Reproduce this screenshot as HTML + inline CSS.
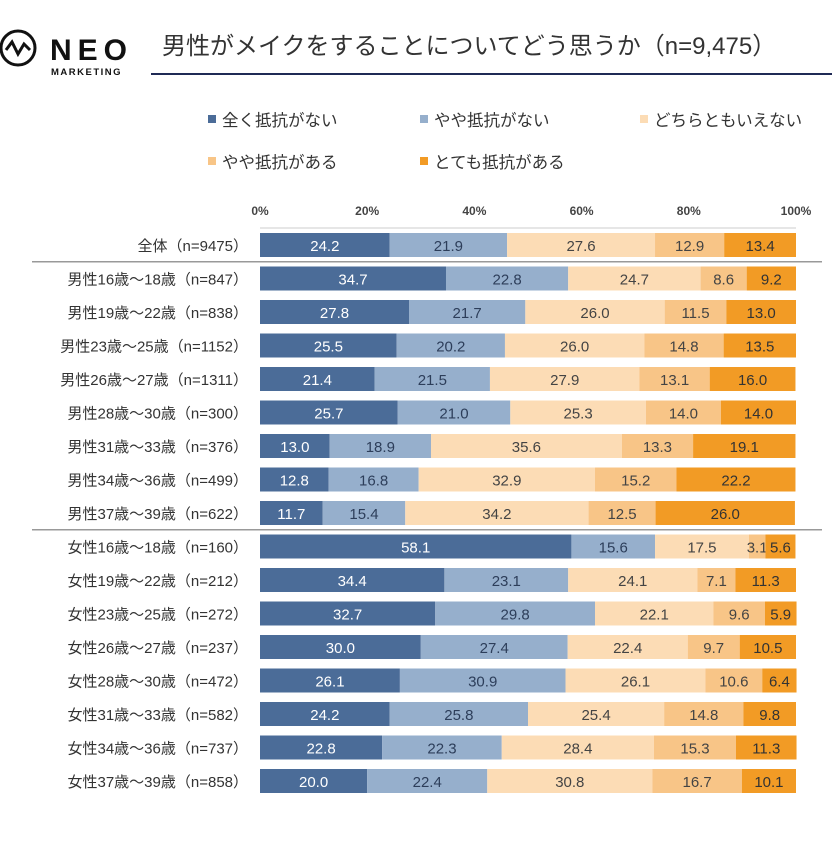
<!DOCTYPE html>
<html><head><meta charset="utf-8">
<style>
body{margin:0;background:#fff;width:837px;height:861px;overflow:hidden;font-family:"Liberation Sans","Noto Sans CJK JP",sans-serif;}
svg text{font-family:"Liberation Sans","Noto Sans CJK JP",sans-serif;}
</style></head><body>
<svg id="chart" width="837" height="861">
<g>
<circle cx="18" cy="48" r="17" fill="none" stroke="#111" stroke-width="3"/>
<polyline points="6,50 12,42 18,54 24,44 30,50" fill="none" stroke="#111" stroke-width="3"/>
<text x="50" y="60" font-size="30" font-weight="bold" letter-spacing="6" fill="#111">NEO</text>
<text x="51" y="75" font-size="9.5" font-weight="bold" letter-spacing="1.5" fill="#111">MARKETING</text>
</g>
<text x="162" y="54" font-size="24" fill="#333">男性がメイクをすることについてどう思うか（n=9,475）</text>
<line x1="151" y1="74" x2="832" y2="74" stroke="#1f2a55" stroke-width="2"/>
<g id="legend"></g>
<g id="axis"></g>
<g id="bars"></g>
</svg>
<script>
const categories=["全体（n=9475）","男性16歳～18歳（n=847）","男性19歳～22歳（n=838）","男性23歳～25歳（n=1152）","男性26歳～27歳（n=1311）","男性28歳～30歳（n=300）","男性31歳～33歳（n=376）","男性34歳～36歳（n=499）","男性37歳～39歳（n=622）","女性16歳～18歳（n=160）","女性19歳～22歳（n=212）","女性23歳～25歳（n=272）","女性26歳～27歳（n=237）","女性28歳～30歳（n=472）","女性31歳～33歳（n=582）","女性34歳～36歳（n=737）","女性37歳～39歳（n=858）"];
const seriesNames=["全く抵抗がない","やや抵抗がない","どちらともいえない","やや抵抗がある","とても抵抗がある"];
const s1=[24.2,34.7,27.8,25.5,21.4,25.7,13.0,12.8,11.7,58.1,34.4,32.7,30.0,26.1,24.2,22.8,20.0];
const s2=[21.9,22.8,21.7,20.2,21.5,21.0,18.9,16.8,15.4,15.6,23.1,29.8,27.4,30.9,25.8,22.3,22.4];
const s3=[27.6,24.7,26.0,26.0,27.9,25.3,35.6,32.9,34.2,17.5,24.1,22.1,22.4,26.1,25.4,28.4,30.8];
const s4=[12.9,8.6,11.5,14.8,13.1,14.0,13.3,15.2,12.5,3.1,7.1,9.6,9.7,10.6,14.8,15.3,16.7];
const s5=[13.4,9.2,13.0,13.5,16.0,14.0,19.1,22.2,26.0,5.6,11.3,5.9,10.5,6.4,9.8,11.3,10.1];
const ticks=[0,20,40,60,80,100];
const series=[s1,s2,s3,s4,s5];
const colors=["#4b6c98","#96afcc","#fcdcb5","#f8c587","#f29b25"];
const textColors=["#fff","#2d3e5a","#444","#444","#333"];
const NS="http://www.w3.org/2000/svg";
const X0=260,X1=796,Y0=245,DY=33.5,BH=24;
const xs=v=>X0+(X1-X0)*v/100;
const yc=i=>Y0+DY*i;
function mk(tag,attrs,parent){const e=document.createElementNS(NS,tag);for(const k in attrs)e.setAttribute(k,attrs[k]);parent.appendChild(e);return e;}
const bars=document.getElementById('bars'),axis=document.getElementById('axis'),legend=document.getElementById('legend');
ticks.forEach(t=>{
  const tx=mk('text',{x:xs(t),y:215,'font-size':12,'font-weight':'bold','text-anchor':'middle',fill:'#444'},axis);
  
  
  tx.textContent=t+'%';
});
mk('line',{x1:X0,y1:228,x2:X1,y2:228,stroke:'#ccc'},axis);
[0.5,8.5].forEach(k=>{
  const l=mk('line',{x1:32,y1:yc(k),x2:822,y2:yc(k),stroke:'#999','stroke-width':1.5},axis);
  
  
});
const lpos=[[208,120],[420,120],[640,120],[208,162],[420,162]];
seriesNames.forEach((n,j)=>{
  const g=mk('g',{},legend);
  
  
  mk('rect',{x:lpos[j][0],y:lpos[j][1]-5,width:8,height:8,fill:colors[j]},g);
  const t=mk('text',{x:lpos[j][0]+14,y:lpos[j][1]+6,'font-size':16.5,fill:'#333'},g);
  t.textContent=n;
});
categories.forEach((c,i)=>{
  const lab=mk('text',{x:248,y:yc(i)+6,'font-size':15,'text-anchor':'end',fill:'#333'},bars);
  
  
  lab.textContent=c;
  let acc=0;
  series.forEach((s,j)=>{
    const v=s[i];
    const r=mk('rect',{x:xs(acc),y:yc(i)-BH/2,width:xs(acc+v)-xs(acc),height:BH,fill:colors[j]},bars);
    
    
    const t=mk('text',{x:(xs(acc)+xs(acc+v))/2,y:yc(i)+6,'font-size':15,'text-anchor':'middle',fill:textColors[j]},bars);
    
    
    t.textContent=v.toFixed(1);
    acc+=v;
  });
});
</script>
</body></html>
